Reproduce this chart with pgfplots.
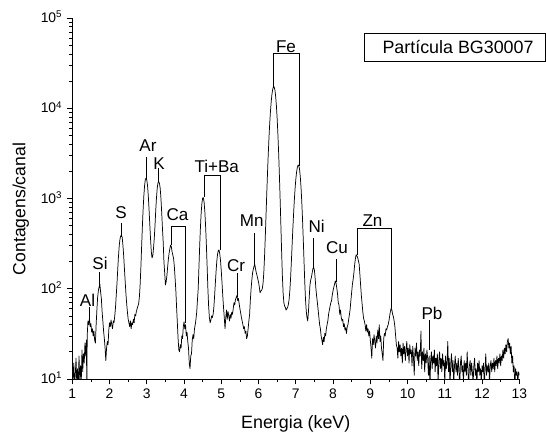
\documentclass[border=0pt]{standalone}
\usepackage{pgfplots}
\pgfplotsset{compat=1.18}
\usepackage{fontspec}
\setmainfont{Liberation Sans}
\begin{document}
\begin{tikzpicture}[lab/.style={font=\fontsize{12.8}{15}\selectfont, inner sep=0pt}]
\useasboundingbox (-54.225pt,-42pt) rectangle (355.275pt,284.25pt);
\begin{axis}[
 at={(0pt,0pt)}, anchor=south west,
 scale only axis, width=335.25pt, height=270.75pt,
 xmin=1, xmax=13, ymin=10, ymax=100000, ymode=log,
 axis x line*=bottom, axis y line*=left,
 axis line style={line width=0.7pt},
 every tick/.style={black, line width=0.6pt},
 tick align=outside,
 major tick length=4pt, minor tick length=2.6pt,
 xtick={1,2,3,4,5,6,7,8,9,10,11,12,13}, minor xtick={1.5,2.5,3.5,4.5,5.5,6.5,7.5,8.5,9.5,10.5,11.5,12.5},
 ytick={10,100,1000,10000,100000},
 yticklabels={10\textsuperscript{1},10\textsuperscript{2},10\textsuperscript{3},10\textsuperscript{4},10\textsuperscript{5}},
 minor ytick={20,30,40,50,60,70,80,90,200,300,400,500,600,700,800,900,2000,3000,4000,5000,6000,7000,8000,9000,20000,30000,40000,50000,60000,70000,80000,90000},
 /pgf/number format/assume math mode=true,
 ticklabel style={font=\fontsize{10.4}{12}\selectfont},
 yticklabel style={anchor=base east, yshift=-0.35em},
]
\addplot[black, line width=0.55pt, line join=round] coordinates {
(1.00,12) (1.02,10) (1.04,15) (1.06,9) (1.08,11) (1.10,17) (1.12,9) (1.14,13) (1.16,8) (1.18,18) (1.20,10) (1.22,14) (1.24,9) (1.26,21) (1.28,12) (1.30,19) (1.32,15) (1.34,25) (1.36,18) (1.38,27) (1.39,6) (1.40,30)
(1.42,44) (1.44,40) (1.46,47) (1.48,38) (1.50,41) (1.52,33) (1.54,36) (1.56,30) (1.58,34) (1.60,27) (1.62,25) (1.64,40) (1.66,58) (1.68,80) (1.70,95) (1.72,105) (1.74,112) (1.76,92) (1.78,78) (1.80,56)
(1.82,44) (1.84,34) (1.86,28) (1.88,22) (1.90,16) (1.92,22) (1.94,26) (1.96,24) (1.98,35) (2.00,42) (2.02,38) (2.04,45) (2.06,40) (2.08,36) (2.10,44) (2.12,42) (2.14,50) (2.16,62) (2.18,85) (2.20,115)
(2.22,165) (2.24,230) (2.26,300) (2.28,355) (2.30,385) (2.32,395) (2.34,370) (2.36,300) (2.38,230) (2.40,165) (2.42,120) (2.44,88) (2.46,68) (2.48,55) (2.50,46) (2.52,42) (2.54,38) (2.56,44) (2.58,36) (2.60,42)
(2.62,40) (2.64,46) (2.66,42) (2.68,52) (2.70,50) (2.72,56) (2.74,60) (2.76,64) (2.78,68) (2.80,80) (2.82,109) (2.84,168) (2.86,284) (2.88,475) (2.90,740) (2.92,1060) (2.94,1380) (2.96,1620) (2.98,1680) (3.00,1600)
(3.02,1390) (3.04,1075) (3.06,760) (3.08,520) (3.10,360) (3.12,260) (3.14,220) (3.16,230) (3.18,280) (3.20,360) (3.22,500) (3.24,740) (3.26,1020) (3.28,1300) (3.30,1490) (3.32,1540) (3.34,1470) (3.36,1290) (3.38,1000) (3.40,700)
(3.42,470) (3.44,330) (3.46,200) (3.48,150) (3.50,110) (3.52,120) (3.54,140) (3.56,175) (3.58,215) (3.60,250) (3.62,280) (3.64,305) (3.66,290) (3.68,255) (3.70,235) (3.72,215) (3.74,175) (3.76,130) (3.78,95) (3.80,62)
(3.82,42) (3.84,28) (3.86,21) (3.88,20) (3.90,24) (3.92,22) (3.94,30) (3.96,28) (3.98,38) (4.00,43) (4.02,36) (4.04,40) (4.06,30) (4.08,33) (4.10,26) (4.12,22) (4.14,15) (4.16,13) (4.18,18) (4.20,19)
(4.22,27) (4.24,31) (4.26,28) (4.28,36) (4.30,40) (4.32,46) (4.34,55) (4.36,75) (4.38,100) (4.40,175) (4.42,300) (4.44,480) (4.46,695) (4.48,893) (4.50,1015) (4.52,1020) (4.54,893) (4.56,695) (4.58,480) (4.60,300)
(4.62,175) (4.64,100) (4.66,64) (4.68,48) (4.70,42) (4.72,45) (4.74,50) (4.76,48) (4.78,52) (4.80,62) (4.82,83) (4.84,115) (4.86,156) (4.88,203) (4.90,242) (4.92,267) (4.94,268) (4.96,242) (4.98,203) (5.00,156)
(5.02,115) (5.04,83) (5.06,62) (5.08,48) (5.10,36) (5.12,48) (5.14,58) (5.16,46) (5.18,56) (5.20,50) (5.22,44) (5.24,52) (5.26,47) (5.28,55) (5.30,52) (5.32,60) (5.34,70) (5.36,66) (5.38,76) (5.40,80)
(5.42,84) (5.44,74) (5.46,78) (5.48,68) (5.50,60) (5.52,54) (5.54,48) (5.56,44) (5.58,40) (5.60,36) (5.62,38) (5.64,32) (5.66,34) (5.68,28) (5.70,30) (5.72,36) (5.74,44) (5.76,52) (5.78,75) (5.80,100)
(5.82,125) (5.84,150) (5.86,165) (5.88,178) (5.90,185) (5.92,165) (5.94,150) (5.96,140) (5.98,128) (6.00,118) (6.02,105) (6.04,90) (6.06,94) (6.08,96) (6.10,100) (6.12,114) (6.14,148) (6.16,221) (6.18,368) (6.20,640)
(6.22,1120) (6.24,1890) (6.26,3070) (6.28,4700) (6.30,6820) (6.32,9280) (6.34,11890) (6.36,14330) (6.38,16210) (6.40,17250) (6.41,17400) (6.42,17180) (6.44,15840) (6.46,13460) (6.48,10560) (6.50,7620) (6.52,5090) (6.54,3160) (6.56,1790) (6.58,965)
(6.60,496) (6.62,252) (6.64,138) (6.66,89) (6.68,70) (6.70,64) (6.72,62) (6.74,58) (6.76,60) (6.78,62) (6.80,67) (6.82,76) (6.84,95) (6.86,131) (6.88,195) (6.90,298) (6.92,455) (6.94,670) (6.96,950) (6.98,1280)
(7.00,1625) (7.02,1950) (7.04,2200) (7.06,2335) (7.07,2350) (7.08,2318) (7.10,2112) (7.12,1756) (7.14,1333) (7.16,927) (7.18,595) (7.20,356) (7.22,206) (7.24,120) (7.26,77) (7.28,57) (7.30,48) (7.32,44) (7.34,56) (7.36,80)
(7.38,110) (7.40,125) (7.42,135) (7.44,150) (7.46,168) (7.48,172) (7.50,160) (7.52,130) (7.54,100) (7.56,82) (7.58,70) (7.60,58) (7.62,48) (7.64,40) (7.66,36) (7.68,30) (7.70,27) (7.72,24) (7.74,29) (7.76,26)
(7.78,32) (7.80,30) (7.82,36) (7.84,40) (7.86,44) (7.88,52) (7.90,58) (7.92,64) (7.94,70) (7.96,74) (7.98,86) (8.00,95) (8.02,104) (8.04,112) (8.06,122) (8.08,116) (8.10,102) (8.12,88) (8.14,70) (8.16,66)
(8.18,52) (8.20,58) (8.22,48) (8.24,44) (8.26,46) (8.28,38) (8.30,41) (8.32,35) (8.34,37) (8.36,32) (8.38,38) (8.40,40) (8.42,46) (8.44,52) (8.46,60) (8.48,75) (8.50,92) (8.52,112) (8.54,128) (8.56,150)
(8.58,185) (8.60,215) (8.62,238) (8.64,232) (8.66,222) (8.68,205) (8.70,188) (8.72,145) (8.74,110) (8.76,84) (8.78,68) (8.80,55) (8.82,47) (8.84,44) (8.86,40) (8.88,34) (8.90,40) (8.92,33) (8.94,36) (8.96,30)
(8.98,34) (9.00,27) (9.02,22) (9.04,17) (9.06,28) (9.08,24) (9.10,31) (9.12,26) (9.14,22) (9.16,30) (9.18,25) (9.20,35) (9.22,28) (9.24,40) (9.26,26) (9.28,30) (9.30,22) (9.32,19) (9.34,16) (9.36,28)
(9.38,32) (9.40,30) (9.42,36) (9.44,35) (9.46,38) (9.48,40) (9.50,44) (9.52,50) (9.54,56) (9.56,61) (9.58,58) (9.60,52) (9.62,49) (9.64,44) (9.66,38) (9.68,30) (9.70,24) (9.72,22) (9.74,17) (9.76,26)
(9.78,20) (9.80,24) (9.82,18) (9.84,22) (9.86,15) (9.88,25) (9.90,19) (9.92,23) (9.94,16) (9.96,21) (9.98,26) (10.00,18) (10.02,22) (10.04,15) (10.06,24) (10.08,19) (10.10,21) (10.12,14) (10.14,23) (10.16,17)
(10.18,11) (10.20,22) (10.22,18) (10.24,25) (10.26,16) (10.28,20) (10.30,14) (10.32,21) (10.34,18) (10.36,34) (10.38,13) (10.40,20) (10.42,16) (10.44,22) (10.46,12) (10.48,19) (10.50,15) (10.52,21) (10.54,17) (10.56,11)
(10.58,18) (10.60,8) (10.62,16) (10.64,20) (10.66,13) (10.68,18) (10.70,15) (10.72,21) (10.74,12) (10.76,17) (10.78,14) (10.80,19) (10.82,9) (10.84,16) (10.86,20) (10.88,13) (10.90,17) (10.92,12) (10.94,19) (10.96,14)
(10.98,16) (11.00,9) (11.02,18) (11.04,13) (11.06,15) (11.08,26) (11.10,12) (11.12,17) (11.14,8) (11.16,15) (11.18,19) (11.20,12) (11.22,16) (11.24,9) (11.26,14) (11.28,18) (11.30,12) (11.32,15) (11.34,11) (11.36,17)
(11.38,13) (11.40,8) (11.42,15) (11.44,18) (11.46,12) (11.48,14) (11.50,9) (11.52,16) (11.54,12) (11.56,15) (11.58,11) (11.60,20) (11.62,13) (11.64,8) (11.66,14) (11.68,16) (11.70,11) (11.72,15) (11.74,12) (11.76,9)
(11.78,14) (11.80,17) (11.82,11) (11.84,13) (11.86,8) (11.88,15) (11.90,12) (11.92,16) (11.94,11) (11.96,13) (11.98,9) (12.00,14) (12.02,12) (12.04,15) (12.06,8) (12.08,13) (12.10,19) (12.12,11) (12.14,14) (12.16,12)
(12.18,15) (12.20,9) (12.22,14) (12.24,16) (12.26,12) (12.28,15) (12.30,13) (12.32,17) (12.34,12) (12.36,16) (12.38,14) (12.40,18) (12.42,13) (12.44,17) (12.46,15) (12.48,19) (12.50,14) (12.52,18) (12.54,16) (12.56,21)
(12.58,17) (12.60,22) (12.62,19) (12.64,24) (12.66,20) (12.68,26) (12.70,28) (12.72,22) (12.74,25) (12.76,19) (12.78,23) (12.80,15) (12.82,18) (12.84,12) (12.86,14) (12.88,8) (12.90,13) (12.92,11) (12.94,12) (12.96,9)
(12.98,12) (13.00,11)
};
\node[lab] at (axis cs:1.408,75) {Al};
\draw[line width=0.6pt] (axis cs:1.448,62.8) -- (axis cs:1.448,41.7);
\node[lab] at (axis cs:1.744,190) {Si};
\draw[line width=0.6pt] (axis cs:1.725,154) -- (axis cs:1.725,102);
\node[lab] at (axis cs:2.307,690) {S};
\draw[line width=0.6pt] (axis cs:2.326,536) -- (axis cs:2.326,374);
\node[lab] at (axis cs:3.032,3820) {Ar};
\draw[line width=0.6pt] (axis cs:2.997,2900) -- (axis cs:2.997,1645);
\node[lab] at (axis cs:3.327,2410) {K};
\draw[line width=0.6pt] (axis cs:3.314,2180) -- (axis cs:3.314,1525);
\node[lab] at (axis cs:3.824,656) {Ca};
\draw[line width=0.6pt] (axis cs:3.668,305) -- (axis cs:3.668,496) -- (axis cs:4.034,496) -- (axis cs:4.034,41.7);
\node[lab] at (axis cs:4.877,2263) {Ti+Ba};
\draw[line width=0.6pt] (axis cs:4.536,1040) -- (axis cs:4.536,1790) -- (axis cs:4.973,1790) -- (axis cs:4.973,268);
\node[lab] at (axis cs:5.395,179) {Cr};
\draw[line width=0.6pt] (axis cs:5.430,148) -- (axis cs:5.430,82);
\node[lab] at (axis cs:5.816,564) {Mn};
\draw[line width=0.6pt] (axis cs:5.886,411) -- (axis cs:5.886,183);
\node[lab] at (axis cs:6.737,48300) {Fe};
\draw[line width=0.6pt] (axis cs:6.396,17400) -- (axis cs:6.396,40600) -- (axis cs:7.086,40600) -- (axis cs:7.086,2290);
\node[lab] at (axis cs:7.561,490) {Ni};
\draw[line width=0.6pt] (axis cs:7.470,362) -- (axis cs:7.470,170);
\node[lab] at (axis cs:8.106,286) {Cu};
\draw[line width=0.6pt] (axis cs:8.079,212) -- (axis cs:8.079,120);
\node[lab] at (axis cs:9.059,564) {Zn};
\draw[line width=0.6pt] (axis cs:8.643,237) -- (axis cs:8.643,468) -- (axis cs:9.556,468) -- (axis cs:9.556,61);
\node[lab] at (axis cs:10.656,53.8) {Pb};
\draw[line width=0.6pt] (axis cs:10.584,45) -- (axis cs:10.584,21);
\end{axis}
\draw[line width=0.7pt] (218.8pt,238.5pt) rectangle (354.6pt,259.5pt);
\node[anchor=base, inner sep=0pt, font=\fontsize{13.4}{16}\selectfont] at (289.3pt,244.3pt) {Partícula BG30007};
\node[rotate=90, anchor=base, inner sep=0pt, font=\fontsize{13.2}{16}\selectfont] at (-35.25pt,127.5pt) {Contagens/canal};
\node[anchor=base, inner sep=0pt, font=\fontsize{13.4}{16}\selectfont] at (167.6pt,-37.1pt) {Energia (keV)};
\end{tikzpicture}
\end{document}
